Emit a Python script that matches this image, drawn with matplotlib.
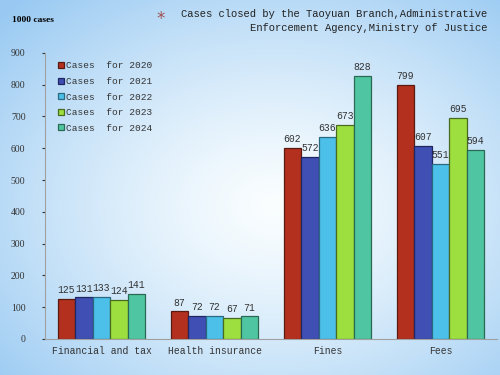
import numpy as np
import matplotlib.pyplot as plt

# Categorieen en waarden (1000 zaken)
categorieen = ['Financial and tax', 'Health insurance', 'Fines', 'Fees']
jaren = ['2020', '2021', '2022', '2023', '2024']
waarden_2020 = [125, 87, 602, 799]
waarden_2021 = [131, 72, 572, 607]
waarden_2022 = [133, 72, 636, 551]
waarden_2023 = [124, 67, 673, 695]
waarden_2024 = [141, 71, 828, 594]
alle_waarden = [waarden_2020, waarden_2021, waarden_2022, waarden_2023, waarden_2024]

kleuren = ['#b3301e', '#3f4fb3', '#4cc0e9', '#9ddf3f', '#4fc6a1']
randen = ['#5a1a10', '#1f2660', '#2a6a80', '#4a6a20', '#2a6a55']

fig = plt.figure(figsize=(5, 3.75), dpi=100)

# Achtergrond: lichtblauwe gradient
bg = fig.add_axes([0, 0, 1, 1], zorder=-1)
yy, xx = np.mgrid[0:1:200j, 0:1:260j]
r = np.sqrt(((xx - 0.55) / 0.75) ** 2 + ((yy - 0.55) / 0.75) ** 2)
t = np.clip(r, 0, 1)[..., None] ** 1.3
licht = np.array([0.98, 0.995, 1.0])
donker = np.array([0.60, 0.79, 0.95])
bg.imshow(licht * (1 - t) + donker * t, aspect='auto', extent=[0, 1, 0, 1])
bg.axis('off')

ax = fig.add_axes([0.09, 0.096, 0.904, 0.763])
ax.patch.set_alpha(0)

x = np.arange(len(categorieen))
breedte = 0.155
for i, (waarden, jaar) in enumerate(zip(alle_waarden, jaren)):
    pos = x + (i - 2) * breedte
    ax.bar(pos, waarden, breedte, color=kleuren[i], edgecolor=randen[i],
           linewidth=0.9, label='Cases  for ' + jaar, zorder=2)
    for p, w in zip(pos, waarden):
        ax.text(p, w + 12, str(w), ha='center', va='bottom', fontsize=7,
                family='Liberation Mono', color='#333333')

ax.set_xlim(-0.5, 3.5)
ax.set_ylim(0, 900)
ax.set_yticks(range(0, 901, 100))
ax.set_xticks(x)
ax.set_xticklabels(categorieen, family='Liberation Mono', fontsize=7, color='#333333')
ax.tick_params(axis='y', labelsize=7, colors='#333333', length=2, pad=12)
ax.tick_params(axis='x', length=0, pad=5)
for lbl in ax.get_yticklabels():
    lbl.set_family('Liberation Serif')
for s in ['top', 'right']:
    ax.spines[s].set_visible(False)
for s in ['left', 'bottom']:
    ax.spines[s].set_color('#a0a0a0')
    ax.spines[s].set_linewidth(0.8)

ax.legend(loc='upper left', bbox_to_anchor=(0.01, 1.0), frameon=False,
          prop={'family': 'Liberation Mono', 'size': 6.8}, handlelength=0.6,
          handleheight=0.6, handletextpad=0.2, labelspacing=0.7, labelcolor='#333333')

fig.text(0.024, 0.94, '1000 cases', fontsize=6.8, fontweight='bold', family='Liberation Serif')
fig.text(0.312, 0.935, '*', fontsize=12, color='#a05050', family='DejaVu Sans')
fig.text(0.975, 0.975, 'Cases closed by the Taoyuan Branch,Administrative\nEnforcement Agency,Ministry of Justice',
         ha='right', va='top', fontsize=7.6, family='Liberation Mono', color='#222222',
         linespacing=1.45)

plt.savefig('out.png', dpi=100)
